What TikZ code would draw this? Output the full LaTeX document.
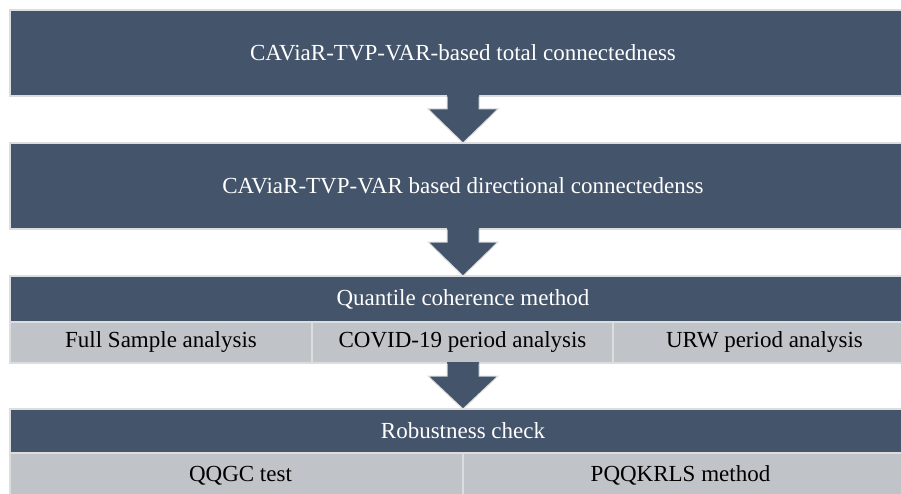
\documentclass[tikz,border=0pt]{standalone}
\usepackage{fontspec}
\setmainfont{Liberation Serif}
\usetikzlibrary{calc}
\definecolor{slate}{HTML}{44546A}
\definecolor{cellgray}{HTML}{C0C3C8}
\definecolor{edgegray}{HTML}{DCDDDF}
\tikzset{
  darkbox/.style={rectangle, anchor=north west, inner sep=0pt, outer sep=0pt,
    fill=slate, draw=edgegray, line width=1.2pt, text=white,
    font=\fontsize{23}{27}\selectfont},
  cellbox/.style={rectangle, anchor=north west, inner sep=0pt, outer sep=0pt,
    fill=cellgray, draw=edgegray, line width=1.2pt, text=black,
    font=\fontsize{23}{27}\selectfont},
}
\begin{document}
\begin{tikzpicture}[x=1pt, y=-1pt]
\useasboundingbox (0,0) rectangle (901,494);
\clip (0,0) rectangle (901,494);
\fill[white] (0,0) rectangle (901,494);

% stage 1
\node[darkbox, minimum width=906pt, minimum height=86pt] (total) at (10,10)
  {CAViaR-TVP-VAR-based total connectedness};
% stage 2
\node[darkbox, minimum width=906pt, minimum height=86pt] (direct) at (10,143)
  {CAViaR-TVP-VAR based directional connectedenss};
% stage 3
\node[darkbox, minimum width=906pt, minimum height=46pt] (qcoh) at (10,276)
  {Quantile coherence method};
\node[cellbox, minimum width=302pt, minimum height=41pt] (full) at (10,322)
  {Full Sample analysis};
\node[cellbox, minimum width=301pt, minimum height=41pt] (covid) at (312,322)
  {COVID-19 period analysis};
\node[cellbox, minimum width=303pt, minimum height=41pt] (urw) at (613,322)
  {URW period analysis};
% stage 4
\node[darkbox, minimum width=906pt, minimum height=44pt] (robust) at (10,409)
  {Robustness check};
\node[cellbox, minimum width=453pt, minimum height=45pt] (qqgc) at (10,453)
  {\hspace*{8pt}QQGC test};
\node[cellbox, minimum width=453pt, minimum height=45pt] (pqq) at (463,453)
  {PQQKRLS method\hspace*{18pt}};

% block arrows between the stages
\coordinate (a1s) at ($(total.south west)+(453,0)$);
\coordinate (a1t) at ($(direct.north west)+(453,0)$);
\coordinate (a2s) at ($(direct.south west)+(453,0)$);
\coordinate (a2t) at ($(qcoh.north west)+(453,0)$);
\coordinate (a3s) at ($(covid.south west)+(151,0)$);
\coordinate (a3t) at ($(robust.north west)+(453,0)$);
\foreach \s/\t in {a1s/a1t, a2s/a2t, a3s/a3t}{
  \fill[slate] ($(\s)+(-16,-1)$) -- ($(\s)+(16,-1)$) -- ($(\s)+(16,13)$)
    -- ($(\s)+(35,13)$) -- (\t) -- ($(\s)+(-35,13)$) -- ($(\s)+(-16,13)$) -- cycle;
  \draw[edgegray, line width=1pt] ($(\s)+(-16,0.6)$) -- ($(\s)+(-16,13)$)
    -- ($(\s)+(-35,13)$) -- (\t) -- ($(\s)+(35,13)$) -- ($(\s)+(16,13)$)
    -- ($(\s)+(16,0.6)$);
}
\end{tikzpicture}
\end{document}
